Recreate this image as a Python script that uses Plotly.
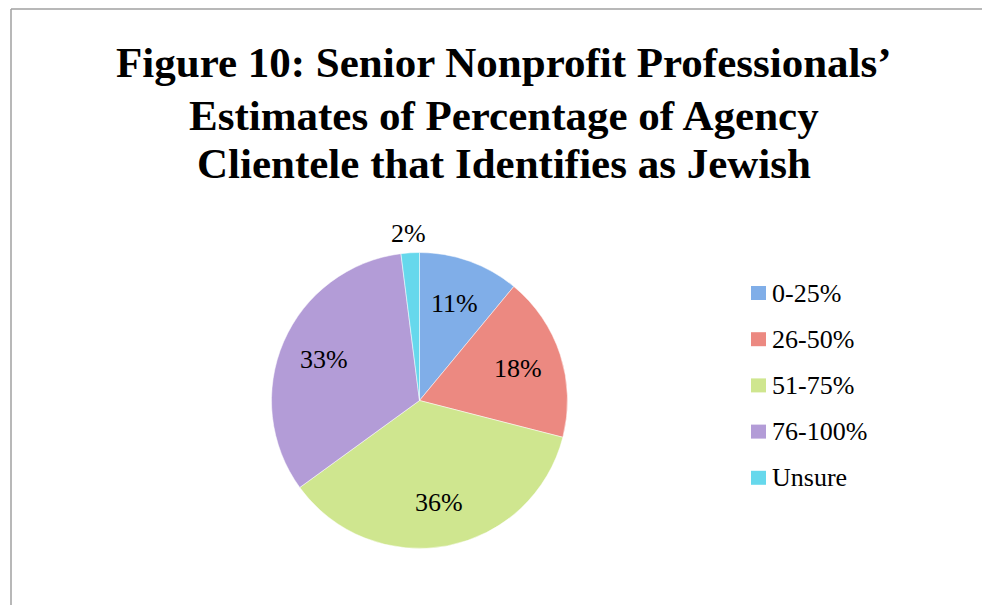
import math
import plotly.graph_objects as go

# Survey categories and share of respondents (%)
categories = ["0-25%", "26-50%", "51-75%", "76-100%", "Unsure"]
values = [11, 18, 36, 33, 2]
slice_colors = ["#80AEE8", "#EC8981", "#CFE68F", "#B39CD7", "#66D8EC"]

title_lines = [
    "Figure 10: Senior Nonprofit Professionals’",
    "Estimates of Percentage of Agency",
    "Clientele that Identifies as Jewish",
]

W, H = 982, 605
SERIF = "Liberation Serif, Times New Roman, serif"

# pie geometry in pixels
cx, cy, r = 419.5, 400.5, 148.0

fig = go.Figure(
    go.Pie(
        labels=categories,
        values=values,
        sort=False,
        direction="clockwise",
        rotation=0,
        textinfo="none",
        hoverinfo="label+percent",
        marker=dict(colors=slice_colors, line=dict(color="white", width=0.5)),
        domain=dict(
            x=[(cx - r) / W, (cx + r) / W],
            y=[(H - cy - r) / H, (H - cy + r) / H],
        ),
        showlegend=False,
    )
)

# percentage labels placed along each slice's mid-angle
annotations = []
total = sum(values)
cum = 0
for v in values:
    mid = (cum + v / 2) / total * 2 * math.pi
    cum += v
    d = 0.70 * r if v >= 5 else 1.13 * r
    px = cx + d * math.sin(mid)
    py = cy - d * math.cos(mid)
    annotations.append(dict(
        x=px / W, y=1 - py / H, xref="paper", yref="paper",
        text=f"{round(v / total * 100)}%", showarrow=False,
        font=dict(family=SERIF, size=26, color="black"),
        xanchor="center", yanchor="middle",
    ))

# title, one annotation per line
title_y = [62.5, 116, 163.5]
for line, ty in zip(title_lines, title_y):
    annotations.append(dict(
        x=504 / W, y=1 - ty / H, xref="paper", yref="paper",
        text=f"<b>{line}</b>", showarrow=False,
        font=dict(family=SERIF, size=43, color="black"),
        xanchor="center", yanchor="middle",
    ))

# legend
shapes = []
leg_x0, leg_y0, leg_step = 751, 293, 46.2
for i, (name, col) in enumerate(zip(categories, slice_colors)):
    yc = leg_y0 + i * leg_step
    shapes.append(dict(
        type="rect", xref="paper", yref="paper",
        x0=leg_x0 / W, x1=(leg_x0 + 15) / W,
        y0=1 - (yc + 7) / H, y1=1 - (yc - 7) / H,
        fillcolor=col, line=dict(width=0),
    ))
    annotations.append(dict(
        x=(leg_x0 + 19) / W, y=1 - yc / H, xref="paper", yref="paper",
        text=name, showarrow=False,
        font=dict(family=SERIF, size=26, color="black"),
        xanchor="left", yanchor="middle",
    ))

# chart frame (left and top edges)
shapes.append(dict(type="line", xref="paper", yref="paper",
                   x0=11 / W, x1=11 / W, y0=0, y1=1 - 9 / H,
                   line=dict(color="#A0A0A0", width=1.5)))
shapes.append(dict(type="line", xref="paper", yref="paper",
                   x0=11 / W, x1=1, y0=1 - 9 / H, y1=1 - 9 / H,
                   line=dict(color="#A0A0A0", width=1.5)))

fig.update_layout(
    width=W, height=H,
    margin=dict(l=0, r=0, t=0, b=0),
    paper_bgcolor="white", plot_bgcolor="white",
    annotations=annotations, shapes=shapes,
)

fig.write_html("out.html", config={"displayModeBar": False})
